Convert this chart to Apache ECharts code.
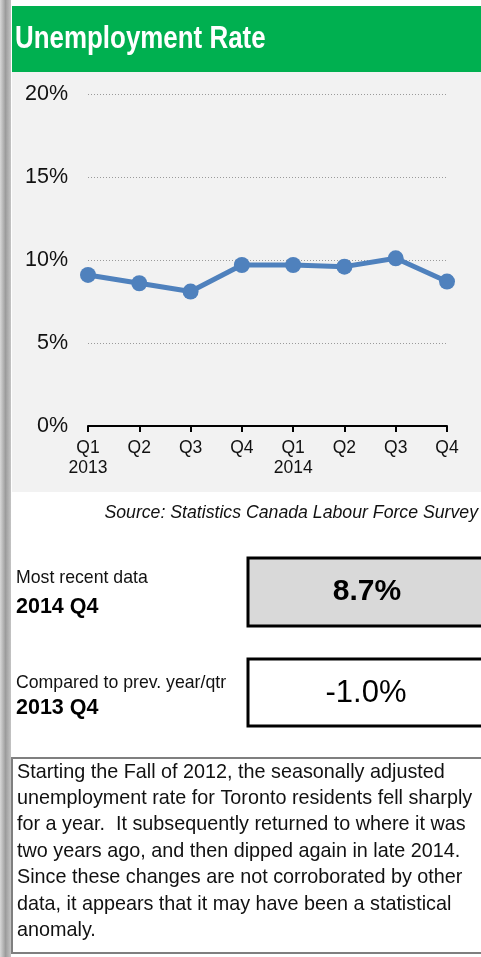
<!DOCTYPE html>
<html>
<head>
<meta charset="utf-8">
<script src="https://cdn.jsdelivr.net/npm/echarts@6/dist/echarts.min.js"></script>
<style>
  html, body { margin: 0; padding: 0; background: #fff; }
  #chartCon { width: 481px; height: 957px; }
</style>
</head>
<body>
<div id="chartCon"></div>
<script>
// quarters, two lines each for the year row
const quarters = ['Q1\n2013', 'Q2', 'Q3', 'Q4', 'Q1\n2014', 'Q2', 'Q3', 'Q4'];
// unemployment rate, %
const rates = [9.1, 8.6, 8.1, 9.7, 9.7, 9.6, 10.1, 8.7];
const yTicks = [0, 5, 10, 15, 20];

const recentValue = '8.7%';
const recentPeriod = '2014 Q4';
const changeValue = '-1.0%';
const changePeriod = '2013 Q4';
const note = 'Starting the Fall of 2012, the seasonally adjusted\nunemployment rate for Toronto residents fell sharply\nfor a year.  It subsequently returned to where it was\ntwo years ago, and then dipped again in late 2014.\nSince these changes are not corroborated by other\ndata, it appears that it may have been a statistical\nanomaly.';

const font = "'Liberation Sans', Arial, sans-serif";
const chart = echarts.init(document.getElementById('chartCon'));

chart.setOption({
  animation: false,
  backgroundColor: '#fff',
  grid: { left: 88, right: 34, top: 94, bottom: 531, containLabel: false },
  xAxis: {
    type: 'category',
    data: quarters,
    boundaryGap: false,
    axisLine: { lineStyle: { color: '#000', width: 2 } },
    axisTick: { show: true, length: 6, lineStyle: { color: '#000', width: 2 } },
    axisLabel: { color: '#111', fontSize: 17.5, fontFamily: font, lineHeight: 20, margin: 12, interval: 0 },
    splitLine: { show: false }
  },
  yAxis: {
    type: 'value',
    min: yTicks[0],
    max: yTicks[yTicks.length - 1],
    interval: 5,
    axisLine: { show: false },
    axisTick: { show: false },
    axisLabel: { color: '#111', fontSize: 21.5, fontFamily: font, margin: 20, formatter: '{value}%' },
    splitLine: { lineStyle: { color: '#9a9a9a', type: [1, 2], width: 1 } }
  },
  series: [{
    type: 'line',
    data: rates,
    symbol: 'circle',
    symbolSize: 16,
    lineStyle: { color: '#4f81bd', width: 5 },
    itemStyle: { color: '#4f81bd' },
    z: 5
  }],
  graphic: [
    // left page shadow
    { type: 'rect', shape: { x: 0, y: 0, width: 11, height: 957 }, z: -5,
      style: { fill: new echarts.graphic.LinearGradient(0, 0, 1, 0, [
        { offset: 0, color: '#d8d8d8' }, { offset: 0.5, color: '#9c9c9c' }, { offset: 1, color: '#c4c4c4' }]) } },
    // chart panel
    { type: 'rect', shape: { x: 12, y: 72, width: 469, height: 420 }, z: -10, style: { fill: '#f2f2f2' } },
    // header bar
    { type: 'rect', shape: { x: 12, y: 6, width: 469, height: 66 }, z: 1, style: { fill: '#00b050' } },
    // narrow bold title, squeezed horizontally
    { type: 'text', x: 15, y: 39, z: 2, scaleX: 0.81, scaleY: 1,
      style: { text: 'Unemployment Rate', fill: '#fff', font: 'bold 32px ' + font, textVerticalAlign: 'middle' } },
    // source
    { type: 'text', x: 478, y: 513, z: 2,
      style: { text: 'Source: Statistics Canada Labour Force Survey', fill: '#111', font: 'italic 17.7px ' + font, textAlign: 'right', textVerticalAlign: 'middle' } },
    // most recent
    { type: 'text', x: 16, y: 578, style: { text: 'Most recent data', fill: '#111', font: '17.7px ' + font, textVerticalAlign: 'middle' } },
    { type: 'text', x: 16, y: 607, style: { text: recentPeriod, fill: '#000', font: 'bold 21.5px ' + font, textVerticalAlign: 'middle' } },
    { type: 'rect', shape: { x: 248, y: 558, width: 240, height: 68 }, style: { fill: '#d9d9d9', stroke: '#000', lineWidth: 3 } },
    { type: 'text', x: 367, y: 592, z: 3, style: { text: recentValue, fill: '#000', font: 'bold 30px ' + font, textAlign: 'center', textVerticalAlign: 'middle' } },
    // compared
    { type: 'text', x: 16, y: 683, style: { text: 'Compared to prev. year/qtr', fill: '#111', font: '17.7px ' + font, textVerticalAlign: 'middle' } },
    { type: 'text', x: 16, y: 708, style: { text: changePeriod, fill: '#000', font: 'bold 21.5px ' + font, textVerticalAlign: 'middle' } },
    { type: 'rect', shape: { x: 248, y: 659, width: 240, height: 67 }, style: { fill: '#fff', stroke: '#000', lineWidth: 3 } },
    { type: 'text', x: 366, y: 693, z: 3, style: { text: changeValue, fill: '#000', font: '31px ' + font, textAlign: 'center', textVerticalAlign: 'middle' } },
    // note box
    { type: 'rect', shape: { x: 12, y: 758, width: 475, height: 195 }, style: { fill: '#fff', stroke: '#7f7f7f', lineWidth: 2 } },
    { type: 'text', x: 17, y: 759, z: 3, style: { text: note, fill: '#111', font: '19.8px ' + font, lineHeight: 26.4, textVerticalAlign: 'top' } }
  ]
});
</script>
</body>
</html>
